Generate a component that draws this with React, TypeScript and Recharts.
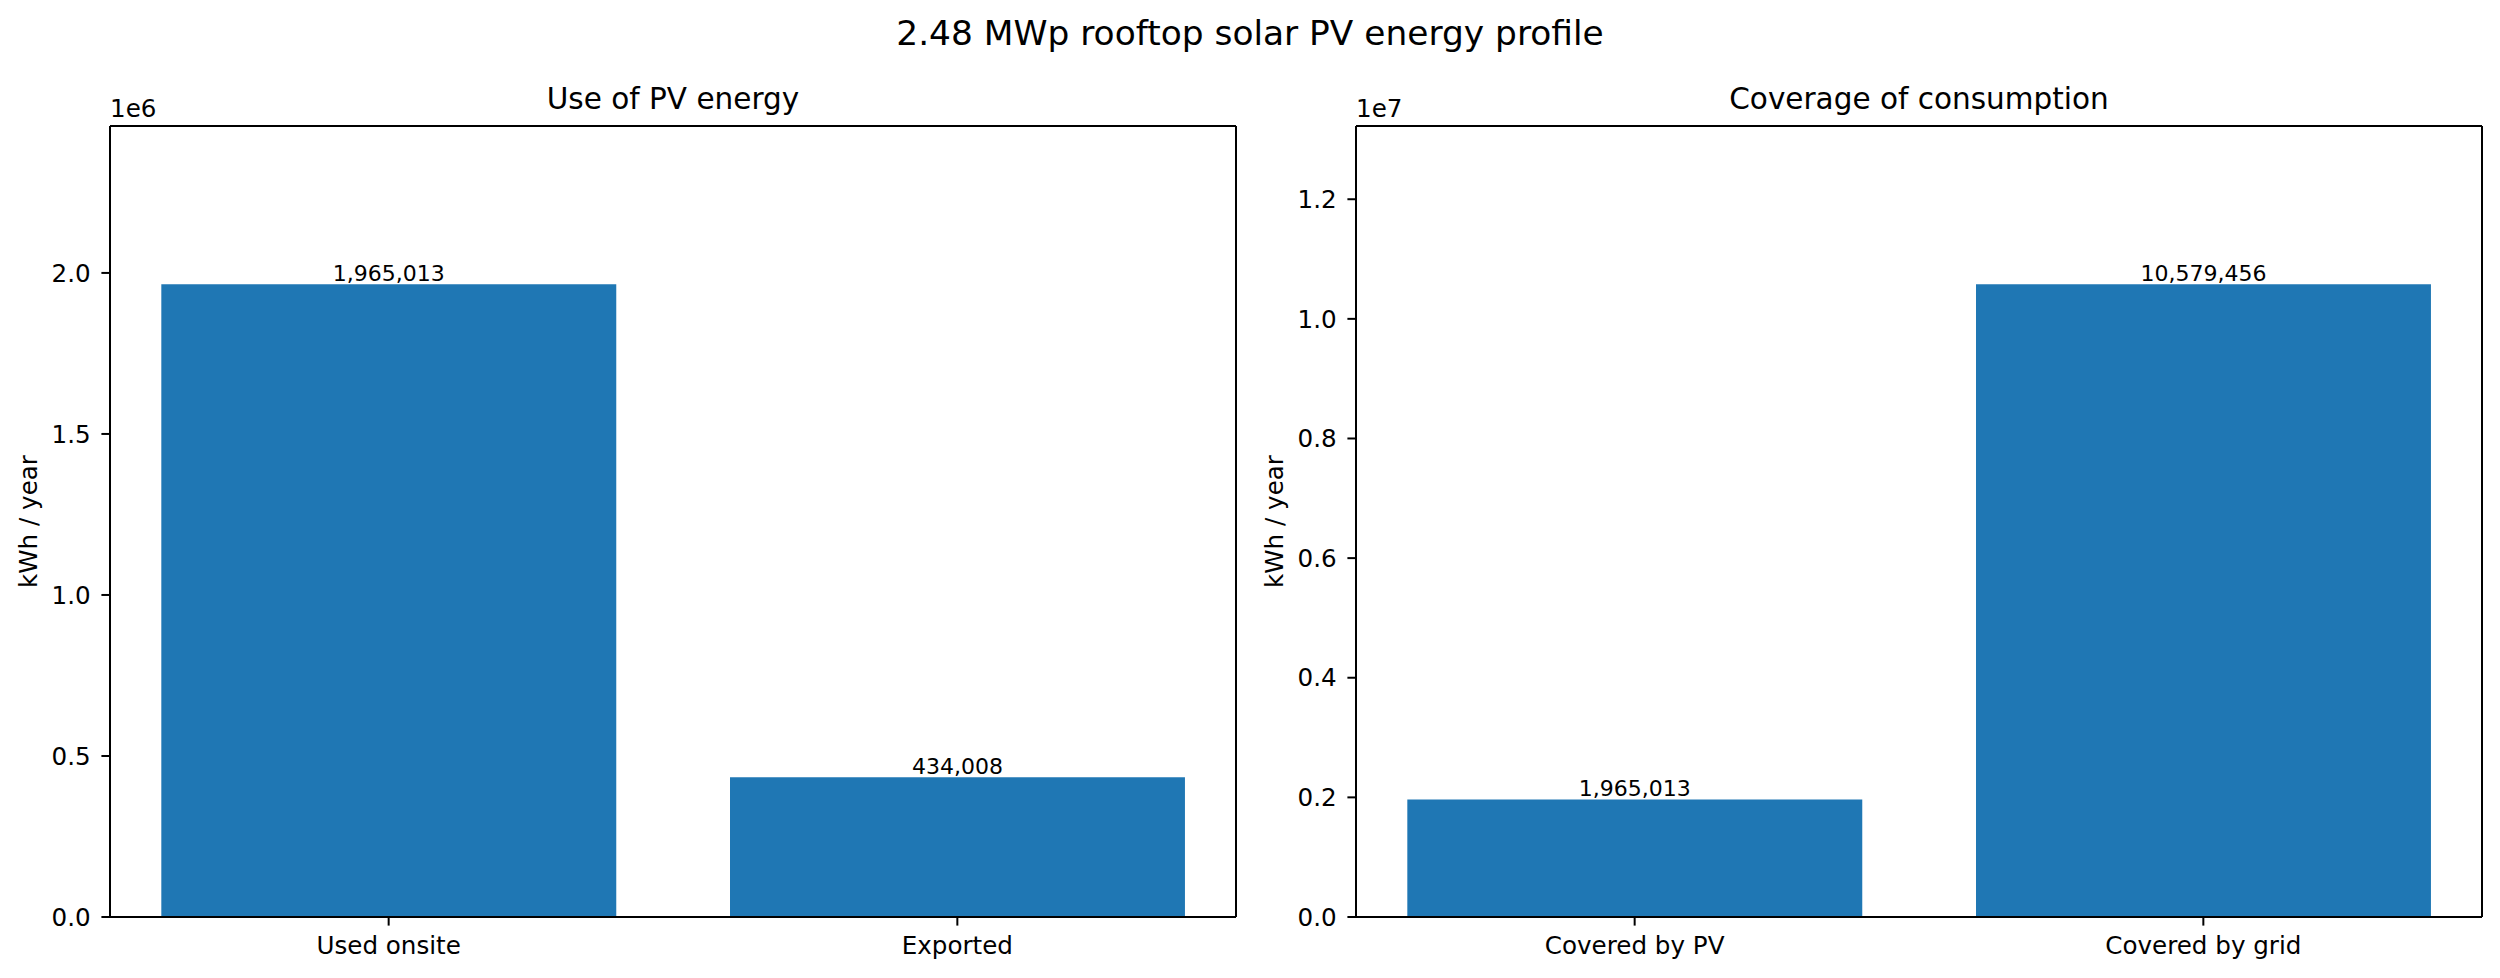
import React from 'react';
import { BarChart, Bar, XAxis, YAxis, LabelList } from 'recharts';

// Energy balance of the rooftop PV system (kWh / year)
const usageLabels = ['Used onsite', 'Exported'];
const usageValues = [1965013, 434008];
const usageTicks = [0, 500000, 1000000, 1500000, 2000000];

const coverageLabels = ['Covered by PV', 'Covered by grid'];
const coverageValues = [1965013, 10579456];
const coverageTicks = [0, 2000000, 4000000, 6000000, 8000000, 10000000, 12000000];

const FONT = '"DejaVu Sans", Verdana, sans-serif';
const BLUE = '#1f77b4';

const FIG_W = 2500;
const FIG_H = 978;
const PANEL_W = 1250;
const PLOT_LEFT = 110;
const PLOT_RIGHT = 1236;
const PLOT_TOP = 126;
const PLOT_BOTTOM = 917;
const PLOT_W = PLOT_RIGHT - PLOT_LEFT;
const RIGHT_PANEL_X = 1246;

const TICK_FS = 24.6;
const TITLE_FS = 29.5;
const SUPTITLE_FS = 34.4;
const LABEL_FS = 22;
const TICK_LEN = 8.6;

const BAR_WIDTH = 0.8;
// thin axes used only to draw the top and right spines of each frame
const FRAME_AXIS = 2;

type PanelProps = {
  labels: string[];
  values: number[];
  ticks: number[];
  scale: number;
  left: number;
};

function Panel({ labels, values, ticks, scale, left }: PanelProps) {
  const data = labels.map((name, i) => ({ pos: i, name, value: values[i] }));
  const lo = -BAR_WIDTH / 2;
  const hi = labels.length - 1 + BAR_WIDTH / 2;
  const pad = 0.05 * (hi - lo);
  const xDomain: [number, number] = [lo - pad, hi + pad];
  const barPx = (BAR_WIDTH * PLOT_W) / (xDomain[1] - xDomain[0]);
  const yMax = 1.25 * Math.max(...values);
  const axisStroke = { stroke: '#000', strokeWidth: 2 };
  const tickStyle = { fontSize: TICK_FS, fill: '#000', fontFamily: FONT };

  return (
    <div style={{ position: 'absolute', left, top: 0 }}>
      <BarChart
        width={PANEL_W}
        height={FIG_H}
        data={data}
        margin={{
          top: PLOT_TOP - FRAME_AXIS,
          right: PANEL_W - PLOT_RIGHT - FRAME_AXIS,
          bottom: 0,
          left: 0,
        }}
      >
        <XAxis
          xAxisId="bottom"
          type="number"
          dataKey="pos"
          domain={xDomain}
          ticks={labels.map((_, i) => i)}
          tickFormatter={(i: number) => labels[i] ?? ''}
          height={FIG_H - PLOT_BOTTOM}
          axisLine={axisStroke}
          tickLine={axisStroke}
          tickSize={TICK_LEN}
          tickMargin={11}
          tick={tickStyle}
          interval={0}
        />
        <XAxis
          xAxisId="top"
          orientation="top"
          type="number"
          dataKey="pos"
          domain={xDomain}
          height={FRAME_AXIS}
          tick={false}
          tickLine={false}
          axisLine={axisStroke}
        />
        <YAxis
          yAxisId="left"
          type="number"
          domain={[0, yMax]}
          ticks={ticks}
          tickFormatter={(v: number) => (v / scale).toFixed(1)}
          width={PLOT_LEFT}
          axisLine={axisStroke}
          tickLine={axisStroke}
          tickSize={TICK_LEN}
          tickMargin={10.7}
          tick={tickStyle}
          interval={0}
        />
        <YAxis
          yAxisId="right"
          orientation="right"
          type="number"
          domain={[0, yMax]}
          width={FRAME_AXIS}
          tick={false}
          tickLine={false}
          axisLine={axisStroke}
        />
        <Bar
          xAxisId="bottom"
          yAxisId="left"
          dataKey="value"
          fill={BLUE}
          barSize={barPx}
          isAnimationActive={false}
        >
          <LabelList
            dataKey="value"
            position="top"
            offset={3}
            formatter={(v: number) => Number(v).toLocaleString('en-US')}
            style={{ fontSize: LABEL_FS, fill: '#000', fontFamily: FONT }}
          />
        </Bar>
      </BarChart>
    </div>
  );
}

export default function App() {
  return (
    <div
      style={{
        position: 'absolute',
        left: 0,
        top: 0,
        width: FIG_W,
        height: FIG_H,
        background: '#fff',
        fontFamily: FONT,
        overflow: 'hidden',
      }}
    >
      <Panel labels={usageLabels} values={usageValues} ticks={usageTicks} scale={1e6} left={0} />
      <Panel
        labels={coverageLabels}
        values={coverageValues}
        ticks={coverageTicks}
        scale={1e7}
        left={RIGHT_PANEL_X}
      />
      <svg
        width={FIG_W}
        height={FIG_H}
        style={{ position: 'absolute', left: 0, top: 0, pointerEvents: 'none' }}
        fontFamily={FONT}
      >
        <text x={1250} y={45} fontSize={SUPTITLE_FS} textAnchor="middle" fill="#000">
          2.48 MWp rooftop solar PV energy profile
        </text>
        <text x={(PLOT_LEFT + PLOT_RIGHT) / 2} y={109} fontSize={TITLE_FS} textAnchor="middle" fill="#000">
          Use of PV energy
        </text>
        <text
          x={RIGHT_PANEL_X + (PLOT_LEFT + PLOT_RIGHT) / 2}
          y={109}
          fontSize={TITLE_FS}
          textAnchor="middle"
          fill="#000"
        >
          Coverage of consumption
        </text>
        <text x={PLOT_LEFT} y={117} fontSize={TICK_FS} fill="#000">
          1e6
        </text>
        <text x={RIGHT_PANEL_X + PLOT_LEFT} y={117} fontSize={TICK_FS} fill="#000">
          1e7
        </text>
        <text
          transform={`translate(37, ${(PLOT_TOP + PLOT_BOTTOM) / 2}) rotate(-90)`}
          fontSize={TICK_FS}
          textAnchor="middle"
          fill="#000"
        >
          kWh / year
        </text>
        <text
          transform={`translate(${RIGHT_PANEL_X + 37}, ${(PLOT_TOP + PLOT_BOTTOM) / 2}) rotate(-90)`}
          fontSize={TICK_FS}
          textAnchor="middle"
          fill="#000"
        >
          kWh / year
        </text>
      </svg>
    </div>
  );
}
